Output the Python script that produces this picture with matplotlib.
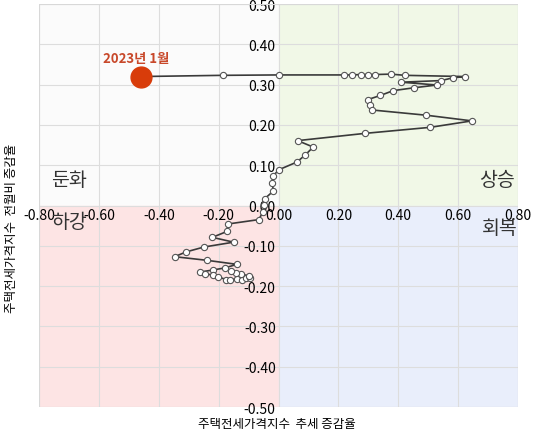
import matplotlib
matplotlib.use("Agg")
import matplotlib.pyplot as plt
from matplotlib.patches import Rectangle

plt.rcParams['font.family'] = ['Noto Sans CJK KR', 'DejaVu Sans']

# ---------------------------------------------------
# Data
# ---------------------------------------------------
# x: 추세 증감율, y: 전월비 증감율 (path order)
trend = [-0.46, -0.187, 0.0, 0.218, 0.247, 0.274, 0.298, 0.323, 0.375, 0.423,
         0.622, 0.583, 0.544, 0.409, 0.529, 0.451, 0.383, 0.34, 0.299, 0.304,
         0.313, 0.494, 0.646, 0.507, 0.289, 0.064, 0.116, 0.09, 0.062, 0.002,
         -0.019, -0.021, -0.017, -0.046, -0.047, -0.052, -0.066, -0.17, -0.171, -0.221,
         -0.15, -0.249, -0.308, -0.347, -0.239, -0.139, -0.18, -0.219, -0.261, -0.247,
         -0.22, -0.202, -0.174, -0.163, -0.139, -0.121, -0.108, -0.094, -0.1, -0.124,
         -0.143, -0.16]
mom = [0.32, 0.323, 0.324, 0.324, 0.324, 0.325, 0.325, 0.325, 0.326, 0.323,
       0.32, 0.317, 0.31, 0.306, 0.299, 0.292, 0.285, 0.273, 0.263, 0.25,
       0.237, 0.224, 0.21, 0.194, 0.179, 0.161, 0.145, 0.126, 0.108, 0.089,
       0.073, 0.055, 0.036, 0.017, 0.002, -0.016, -0.035, -0.046, -0.064, -0.079,
       -0.091, -0.103, -0.115, -0.127, -0.136, -0.146, -0.155, -0.16, -0.165, -0.17,
       -0.172, -0.177, -0.184, -0.184, -0.182, -0.184, -0.181, -0.179, -0.174, -0.171,
       -0.167, -0.162]

x_ticks = [-0.8, -0.6, -0.4, -0.2, 0.0, 0.2, 0.4, 0.6, 0.8]
y_ticks = [-0.5, -0.4, -0.3, -0.2, -0.1, 0.0, 0.1, 0.2, 0.3, 0.4, 0.5]

highlight_label = "2023년 1월"
quadrants = ["둔화", "상승", "하강", "회복"]

# ---------------------------------------------------
# Plot
# ---------------------------------------------------
fig = plt.figure(figsize=(5.36, 4.39), dpi=100)
ax = fig.add_axes([0.0728, 0.0706, 0.8936, 0.918])
ax.set_xlim(-0.8, 0.8)
ax.set_ylim(-0.5, 0.5)

# quadrant backgrounds
ax.add_patch(Rectangle((-0.8, 0), 0.8, 0.5, color='#fbfbfb', zorder=0))
ax.add_patch(Rectangle((0, 0), 0.8, 0.5, color='#f1f8e7', zorder=0))
ax.add_patch(Rectangle((-0.8, -0.5), 0.8, 0.5, color='#fde4e4', zorder=0))
ax.add_patch(Rectangle((0, -0.5), 0.8, 0.5, color='#e9eefb', zorder=0))

ax.set_xticks(x_ticks)
ax.set_yticks(y_ticks)
ax.set_xticklabels([f"{v:.2f}" for v in x_ticks], fontsize=8, fontweight='bold')
ax.set_yticklabels([f"{v:.2f}" for v in y_ticks], fontsize=8, fontweight='bold')
ax.grid(True, color='#dddddd', linewidth=0.8, zorder=1)
ax.set_axisbelow(True)
ax.tick_params(length=0, pad=2)

ax.spines['left'].set_position('zero')
ax.spines['bottom'].set_position('zero')
for s in ['left', 'bottom']:
    ax.spines[s].set_color('none')
for s in ['top', 'right']:
    ax.spines[s].set_visible(False)
ax.add_patch(Rectangle((0, 0), 1, 1, transform=ax.transAxes, fill=False,
                       edgecolor='#d8d8d8', linewidth=0.8, zorder=5))

# path
ax.plot(trend, mom, color='#3a3a3a', linewidth=1.2, marker='o', markersize=4.5,
        markerfacecolor='white', markeredgecolor='#555555', markeredgewidth=0.8,
        zorder=3)
ax.plot(trend[0], mom[0], 'o', color='#d83c0a', markersize=15, zorder=4)
ax.text(trend[0] - 0.015, mom[0] + 0.045, highlight_label, color='#c8482a',
        fontsize=9.5, fontweight='bold', ha='center', va='center', zorder=4)

# quadrant names
ax.text(-0.76, 0.065, quadrants[0], fontsize=14, color='#333333', ha='left', va='center')
ax.text(0.79, 0.065, quadrants[1], fontsize=14, color='#333333', ha='right', va='center')
ax.text(-0.76, -0.04, quadrants[2], fontsize=14, color='#333333', ha='left', va='center')
ax.text(0.8, -0.055, quadrants[3], fontsize=14, color='#333333', ha='right', va='center')

fig.text(0.517, 0.033, "주택전세가격지수  추세 증감율", fontsize=9, ha='center', va='center')
fig.text(0.022, 0.48, "주택전세가격지수  전월비 증감율", fontsize=9, ha='center',
         va='center', rotation=90)

fig.savefig("out.png", dpi=100)
